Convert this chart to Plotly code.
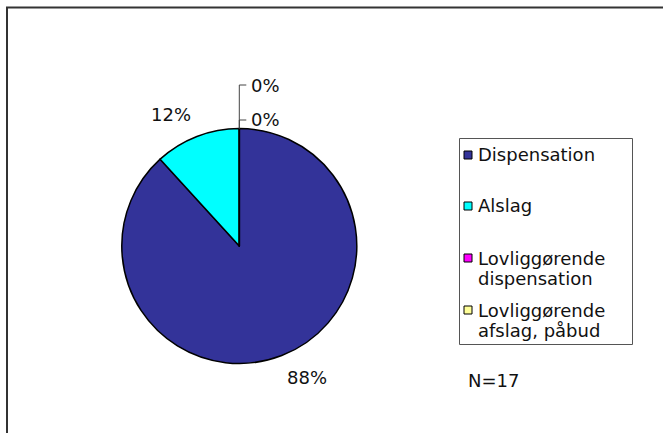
import math
import plotly.graph_objects as go

# ---- data ----
categories = ["Dispensation", "Alslag", "Lovliggørende<br>dispensation", "Lovliggørende<br>afslag, påbud"]
values = [15, 2, 0, 0]
colors = ["#333399", "#00FFFF", "#FF00FF", "#FFFF99"]
n_label = "N=17"

# ---- layout constants (pixels) ----
W, H = 663, 433
CX, CY, R = 239.3, 246.0, 117.5
FONT = dict(family="DejaVu Sans, Verdana, sans-serif", size=18, color="#111111")


def fx(x):
    return x / W


def fy(y):
    return 1 - y / H


fig = go.Figure()
fig.add_trace(go.Pie(
    labels=[c.replace("<br>", " ") for c in categories],
    values=values,
    marker=dict(colors=colors, line=dict(color="black", width=1.5)),
    sort=False,
    direction="clockwise",
    rotation=0,
    textinfo="none",
    hoverinfo="label+percent",
    showlegend=False,
    domain=dict(x=[fx(CX - R), fx(CX + R)], y=[fy(CY + R), fy(CY - R)]),
))

annotations = []
shapes = []

# percent labels computed from values
total = sum(values)
cum = 0.0
zero_k = 0
for v in values:
    frac = v / total
    pct = f"{round(frac * 100)}%"
    if v > 0:
        mid = (cum + frac / 2) * 2 * math.pi
        dx, dy = math.sin(mid), math.cos(mid)
        d = R + 10
        px, py = CX + dx * d, CY - dy * d
        annotations.append(dict(
            x=fx(px), y=fy(py), xref="paper", yref="paper", text=pct, showarrow=False,
            xanchor="left" if dx > 0 else "right", yanchor="top" if dy < 0 else "bottom",
            font=FONT,
        ))
    else:
        # zero slices sit at the end angle: stacked labels with leader lines
        ang = (cum) * 2 * math.pi
        sx, sy = CX + math.sin(ang) * R, CY - math.cos(ang) * R
        ty = sy - 8.5 - zero_k * 35
        shapes.append(dict(type="line", xref="paper", yref="paper",
                           x0=fx(sx), y0=fy(sy), x1=fx(sx), y1=fy(ty),
                           line=dict(color="#444444", width=1)))
        shapes.append(dict(type="line", xref="paper", yref="paper",
                           x0=fx(sx), y0=fy(ty), x1=fx(sx + 7), y1=fy(ty),
                           line=dict(color="#444444", width=1)))
        annotations.append(dict(
            x=fx(sx + 10), y=fy(ty), xref="paper", yref="paper", text=pct, showarrow=False,
            xanchor="left", yanchor="middle", font=FONT,
        ))
        zero_k += 1
    cum += frac

# manual legend
LX0, LY0, LX1, LY1 = 459.5, 138.5, 632.5, 344.5
shapes.append(dict(type="rect", xref="paper", yref="paper",
                   x0=fx(LX0), y0=fy(LY0), x1=fx(LX1), y1=fy(LY1),
                   line=dict(color="#555555", width=1), fillcolor="rgba(0,0,0,0)"))
entry_y = [155, 206, 258, 310]
LINE_GAP = 20.5
for cat, col, ey in zip(categories, colors, entry_y):
    shapes.append(dict(type="rect", xref="paper", yref="paper",
                       x0=fx(464), y0=fy(ey - 4), x1=fx(472), y1=fy(ey + 4),
                       line=dict(color="black", width=1), fillcolor=col))
    for i, line in enumerate(cat.split("<br>")):
        annotations.append(dict(
            x=fx(476), y=fy(ey + i * LINE_GAP), xref="paper", yref="paper", text=line,
            showarrow=False, xanchor="left", yanchor="middle", align="left", font=FONT,
        ))

annotations.append(dict(
    x=fx(466), y=fy(380), xref="paper", yref="paper", text=n_label, showarrow=False,
    xanchor="left", yanchor="middle", font=FONT,
))

# outer frame (top and left edges)
shapes.append(dict(type="line", xref="paper", yref="paper",
                   x0=fx(6), y0=fy(7.5), x1=fx(663), y1=fy(7.5),
                   line=dict(color="#333333", width=2)))
shapes.append(dict(type="line", xref="paper", yref="paper",
                   x0=fx(7), y0=fy(7), x1=fx(7), y1=fy(433),
                   line=dict(color="#333333", width=2)))

fig.update_layout(
    width=W, height=H,
    margin=dict(l=0, r=0, t=0, b=0),
    paper_bgcolor="white", plot_bgcolor="white",
    showlegend=False,
    annotations=annotations,
    shapes=shapes,
    font=FONT,
)

fig.write_html("out.html", config={"displayModeBar": False},
               post_script="document.body.style.margin='0';")
